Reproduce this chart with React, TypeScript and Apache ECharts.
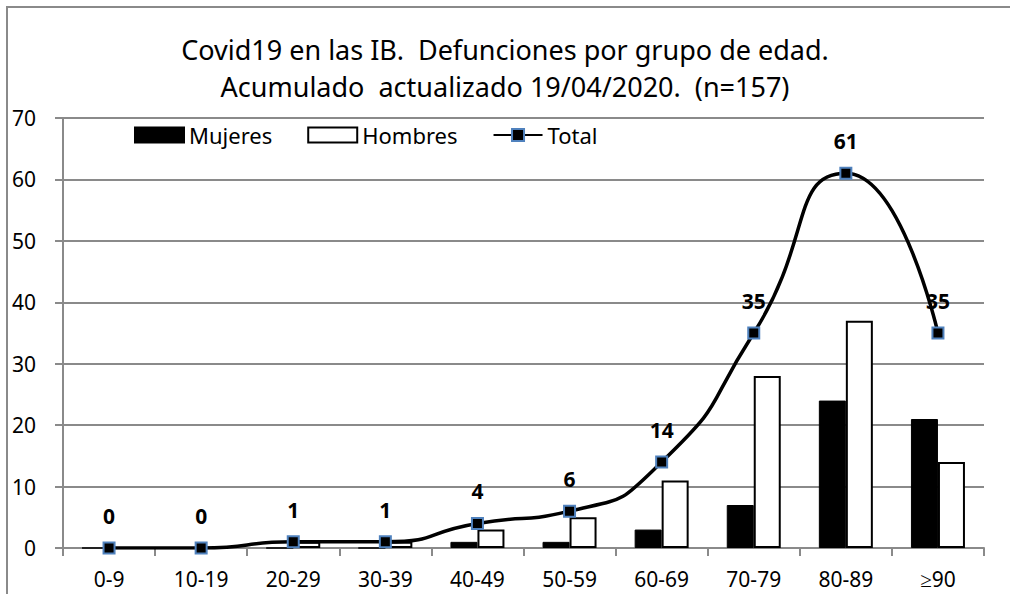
import React, { useEffect, useRef } from "react";
import * as echarts from "echarts";

const categories = ["0-9", "10-19", "20-29", "30-39", "40-49", "50-59", "60-69", "70-79", "80-89", "≥90"];
const mujeres = [0, 0, 0, 0, 1, 1, 3, 7, 24, 21];
const hombres = [0, 0, 1, 1, 3, 5, 11, 28, 37, 14];
const total = [0, 0, 1, 1, 4, 6, 14, 35, 61, 35];
const titleLines = ["Covid19 en las IB.  Defunciones por grupo de edad.", "Acumulado  actualizado 19/04/2020.  (n=157)"];

const FONT = "Noto Sans";

export default function App() {
  const ref = useRef<HTMLDivElement>(null);
  useEffect(() => {
    const chart = echarts.init(ref.current!, null, { renderer: "svg" });
    chart.setOption({
      animation: false,
      backgroundColor: "#ffffff",
      textStyle: { fontFamily: FONT, color: "#000" },
      graphic: [
        {
          type: "rect",
          shape: { x: 7, y: 7, width: 1100, height: 700 },
          style: { fill: "none", stroke: "#8a8a8a", lineWidth: 2 },
          silent: true,
          z: -10,
        },
      ],
      title: {
        text: titleLines.join("\n"),
        left: "center",
        top: 26,
        textStyle: { fontFamily: FONT, fontSize: 27, fontWeight: "normal", color: "#000", lineHeight: 37 },
      },
      legend: {
        left: 129,
        top: 119,
        itemGap: 35,
        itemWidth: 49,
        itemHeight: 15,
        textStyle: { fontFamily: FONT, fontSize: 22, color: "#000" },
        data: [
          { name: "Mujeres", icon: "rect" },
          { name: "Hombres", icon: "rect" },
          { name: "Total" },
        ],
      },
      grid: { left: 63, right: 26, top: 118, bottom: 46 },
      xAxis: {
        type: "category",
        data: categories,
        axisLine: { lineStyle: { color: "#8a8a8a", width: 2 } },
        axisTick: { show: true, length: 8, lineStyle: { color: "#8a8a8a", width: 2 } },
        axisLabel: { fontFamily: FONT, fontSize: 21, color: "#000", margin: 19, lineHeight: 24 },
      },
      yAxis: {
        type: "value",
        min: 0,
        max: 70,
        interval: 10,
        axisLine: { show: true, lineStyle: { color: "#8a8a8a", width: 2 } },
        axisTick: { show: true, length: 8, lineStyle: { color: "#8a8a8a", width: 2 } },
        splitLine: { lineStyle: { color: "#8a8a8a", width: 2 } },
        axisLabel: { fontFamily: FONT, fontSize: 21, color: "#000", margin: 27 },
      },
      series: [
        {
          name: "Mujeres",
          type: "bar",
          data: mujeres,
          barWidth: 27,
          barGap: "0%",
          itemStyle: { color: "#000", borderColor: "#000", borderWidth: 1 },
        },
        {
          name: "Hombres",
          type: "bar",
          data: hombres,
          barWidth: 27,
          barGap: "0%",
          itemStyle: { color: "#fff", borderColor: "#000", borderWidth: 2 },
        },
        {
          name: "Total",
          type: "line",
          data: total,
          smooth: 0.6,
          symbol: "rect",
          symbolSize: 11,
          lineStyle: { color: "#000", width: 3.5 },
          itemStyle: { color: "#000", borderColor: "#4f81bd", borderWidth: 2 },
          label: {
            show: true,
            position: "top",
            distance: 15,
            fontFamily: FONT,
            fontSize: 21,
            fontWeight: "bold",
            color: "#000",
          },
          z: 5,
        },
      ],
    });
    return () => chart.dispose();
  }, []);
  return <div ref={ref} style={{ width: 1010, height: 594, position: "absolute", left: 0, top: 0 }} />;
}
